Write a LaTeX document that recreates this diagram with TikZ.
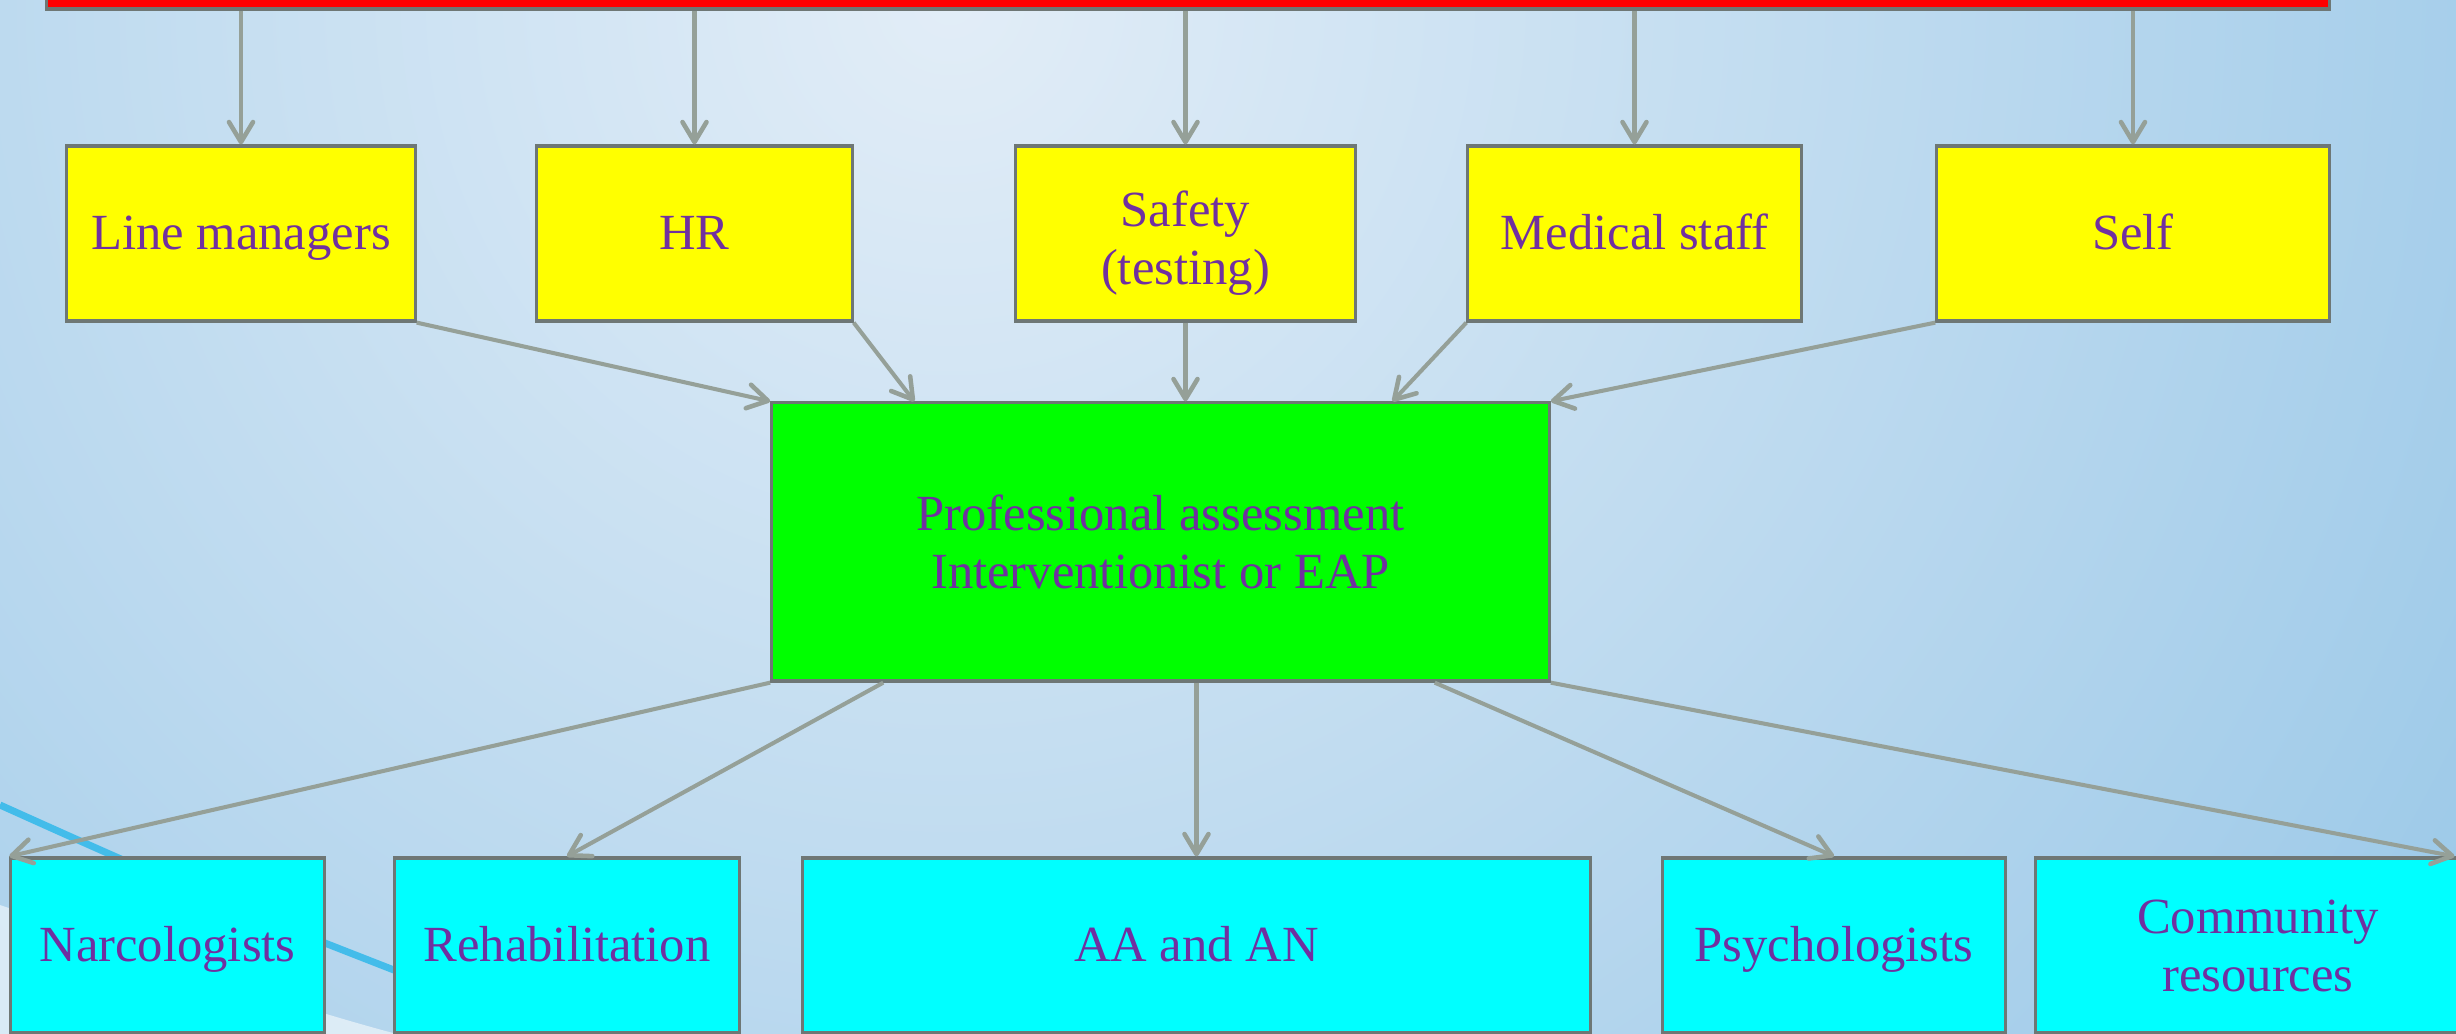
\documentclass[tikz,border=0pt]{standalone}
\usepackage{fontspec}
\setmainfont{Liberation Serif}
\usepackage{xcolor}
\usepackage{tikz}
\usetikzlibrary{arrows.meta,positioning,calc}

\definecolor{bgtop}{RGB}{226,237,247}
\definecolor{bgedge}{RGB}{140,193,229}
\definecolor{swirlblue}{RGB}{40,182,234}
\definecolor{arrowgray}{RGB}{149,160,152}
\definecolor{boxline}{RGB}{110,119,117}
\definecolor{txtpurple}{RGB}{112,48,160}
\definecolor{boxred}{RGB}{255,0,0}
\definecolor{boxyellow}{RGB}{255,255,0}
\definecolor{boxgreen}{RGB}{0,255,0}
\definecolor{boxcyan}{RGB}{0,255,255}

\begin{document}
\begin{tikzpicture}[x=0.01cm, y=-0.01cm,
    box/.style={rectangle, draw=boxline, line width=0.9pt, text=txtpurple, align=center,
      inner sep=0pt, font=\fontsize{14.4}{16.5}\selectfont, minimum height=1.75cm},
    oneline/.style={text height=0.42cm, text depth=0.1cm},
    source/.style={box, fill=boxyellow},
    assess/.style={box, fill=boxgreen, minimum width=7.77cm, minimum height=2.78cm},
    service/.style={box, fill=boxcyan},
    arr/.style={draw=arrowgray, line width=1.15pt,
      -{Straight Barb[length=0.2cm,width=0.24cm,line width=1.3pt,round]}}]
        \useasboundingbox (0,0) rectangle (2456,1034);

        % Background
        \begin{scope}
            \clip (0,0) rectangle (2456,1034);
            \shade[inner color=bgtop, outer color=bgedge] (950,0) circle (2200);
            \fill[white, opacity=0.55] (0,905) .. controls (160,960) and (300,1010) .. (420,1040) -- (0,1040) -- cycle;
            \draw[swirlblue, line width=0.07cm, opacity=0.8] (0,805) .. controls (200,895) .. (600,1050);
        \end{scope}

        % Nodes
        \node[draw=boxline, line width=0.9pt, fill=boxred, minimum width=22.82cm, minimum height=0.5cm, inner sep=0pt] (bar) at (1188,-16) {};

        \node[source, oneline, minimum width=3.48cm] (lines) at (241,233.5) {Line managers};
        \node[source, oneline, minimum width=3.15cm] (hr) at (694.5,233.5) {HR};
        \node[source, minimum width=3.39cm] (safety) at (1185.5,233.5) {\rule{0pt}{0.55cm}Safety\\(testing)};
        \node[source, oneline, minimum width=3.33cm] (medical) at (1634.5,233.5) {Medical staff};
        \node[source, oneline, minimum width=3.92cm] (self) at (2133,233.5) {Self};

        \node[assess] (eap) at (1160.5,542) {Professional assessment\\Interventionist or EAP};

        \node[service, oneline, minimum width=3.13cm] (narc) at (167.5,945.5) {Narcologists};
        \node[service, oneline, minimum width=3.44cm] (rehab) at (567,945.5) {Rehabilitation};
        \node[service, oneline, minimum width=7.87cm] (aa) at (1196.5,945.5) {AA and AN};
        \node[service, oneline, minimum width=3.42cm] (psych) at (1834,945.5) {Psychologists};
        \node[service, minimum width=4.44cm] (community) at (2258,945.5) {Community\\resources};

        % Edges
        \foreach \n in {lines,hr,safety,medical,self}
            \draw[arr] (bar.south -| \n.north) -- (\n.north);

        \draw[arr] (lines.south east) -- (eap.north west);
        \draw[arr] (hr.south east) -- ([xshift=1.44cm]eap.north west);
        \draw[arr] (safety.south) -- (safety.south |- eap.north);
        \draw[arr] (medical.south west) -- ([xshift=6.22cm]eap.north west);
        \draw[arr] (self.south west) -- (eap.north east);

        \draw[arr] (eap.south west) -- (narc.north west);
        \draw[arr] ([xshift=1.13cm]eap.south west) -- (rehab.north);
        \draw[arr] (aa.north |- eap.south) -- (aa.north);
        \draw[arr] ([xshift=-1.16cm]eap.south east) -- (psych.north);
        \draw[arr] (eap.south east) -- ([xshift=4.2cm]community.north west);
    \end{tikzpicture}
\end{document}
